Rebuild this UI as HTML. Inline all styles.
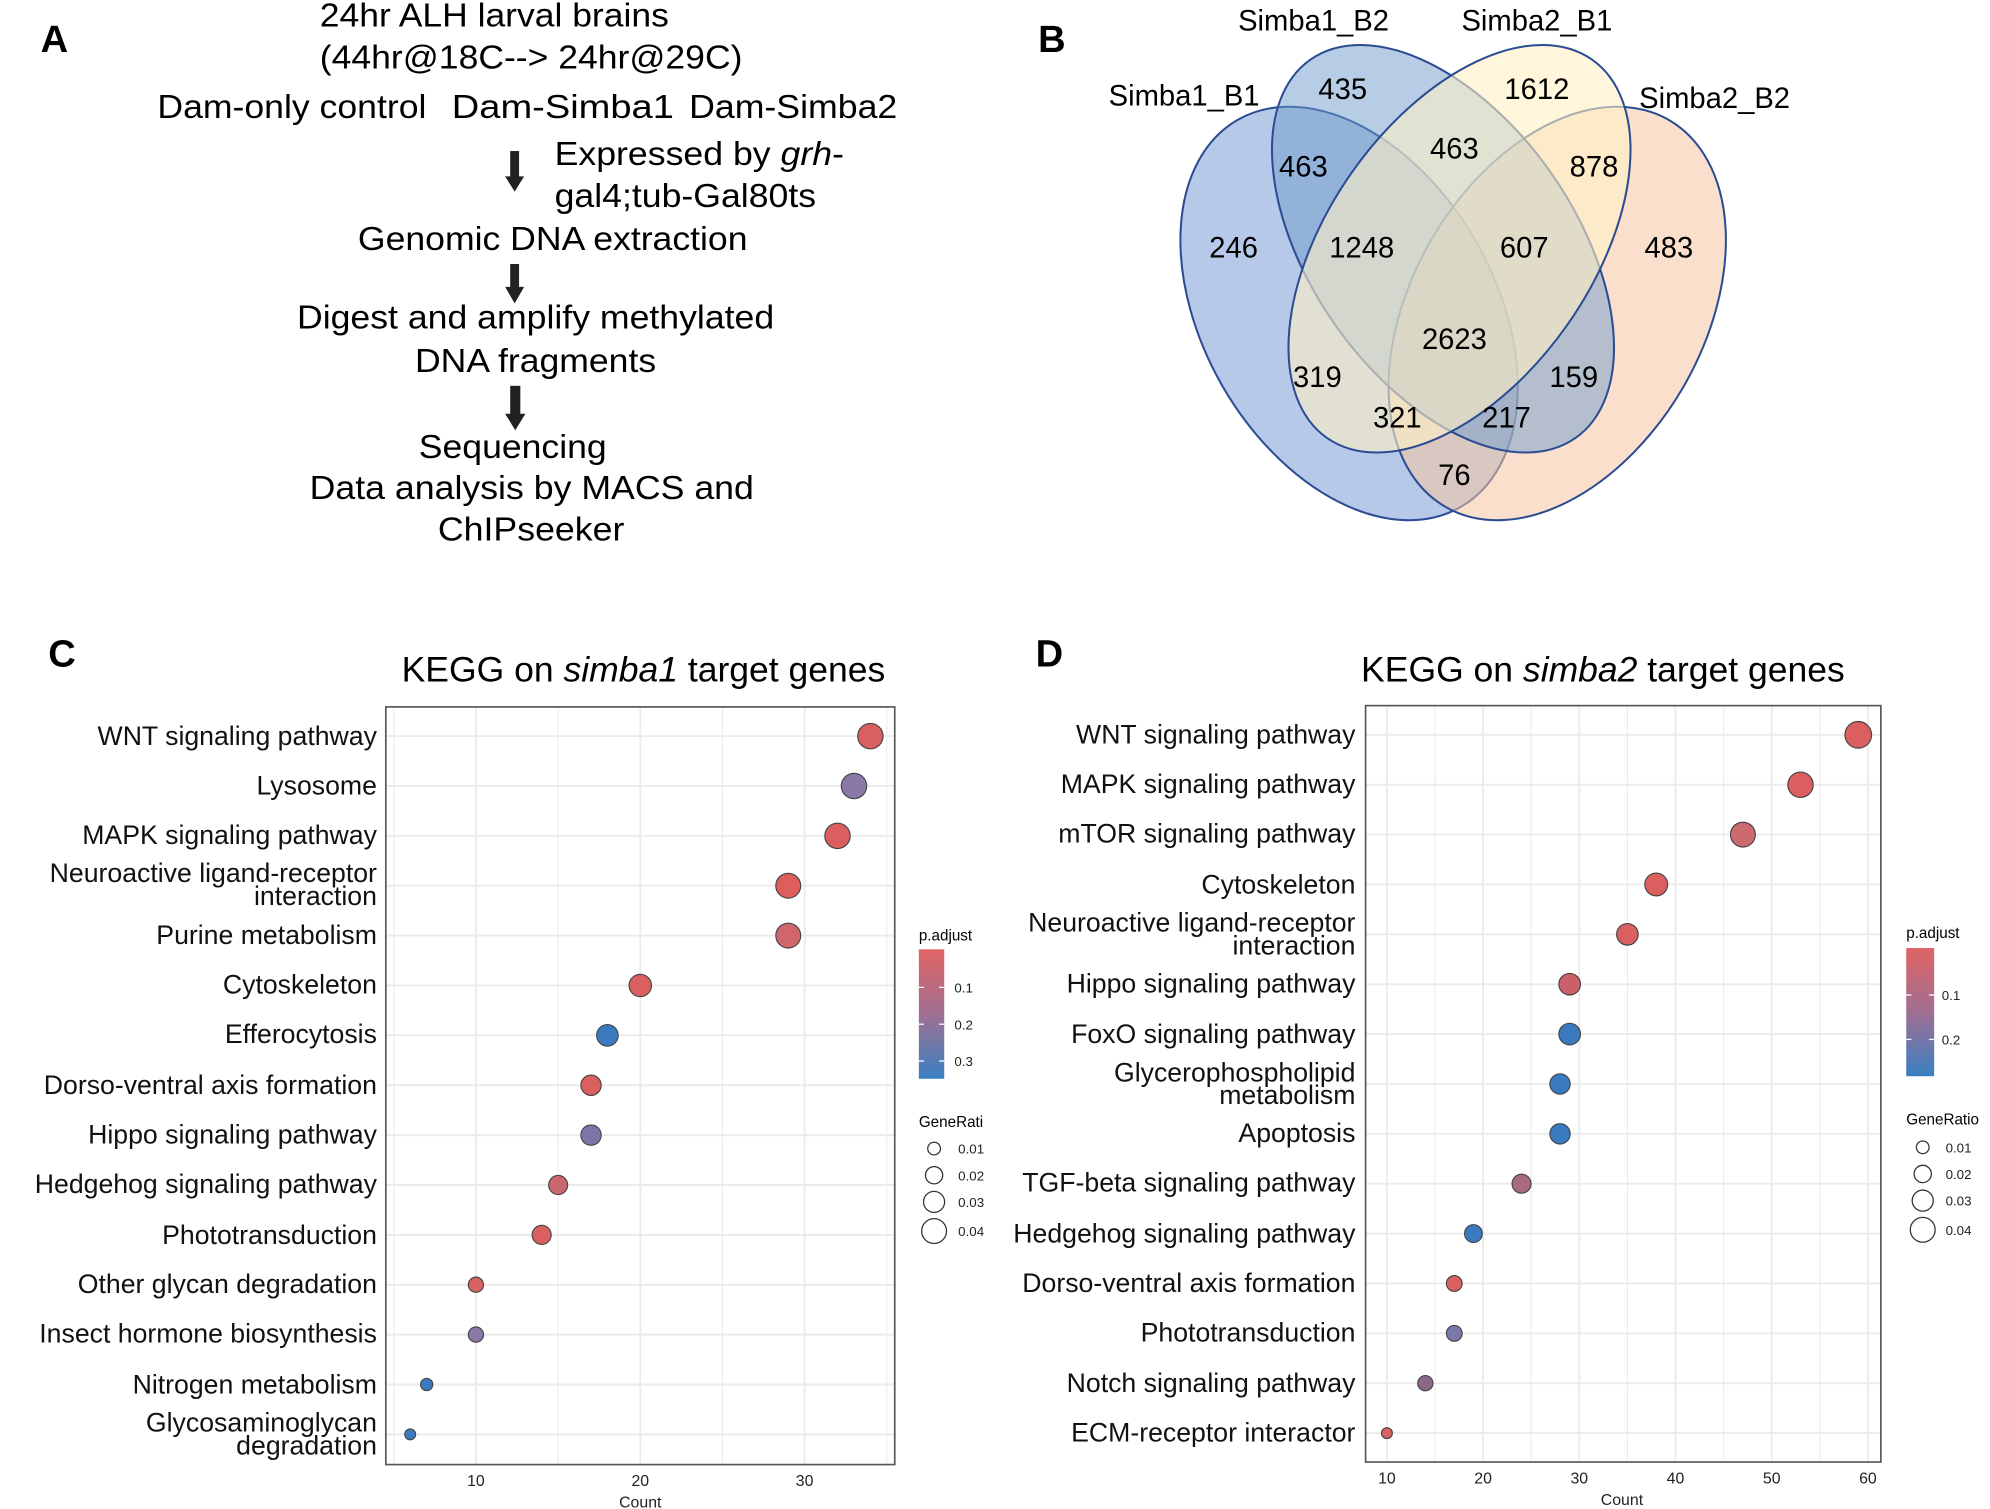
<!DOCTYPE html>
<html><head><meta charset="utf-8"><style>
html,body{margin:0;padding:0;background:#fff;}
svg{display:block;font-family:"Liberation Sans",Arial,sans-serif;}
</style></head><body>
<svg width="1990" height="1509" viewBox="0 0 1568 1189" preserveAspectRatio="none" xmlns="http://www.w3.org/2000/svg">
<defs>
<linearGradient id="pg" x1="0" y1="0" x2="0" y2="1">
<stop offset="0" stop-color="#e06464"/><stop offset="0.5" stop-color="#a06f92"/><stop offset="1" stop-color="#3a80c2"/>
</linearGradient>
</defs>
<rect width="1568" height="1189" fill="#fff"/>

<!-- Panel A -->
<text x="32" y="41" font-size="30" font-weight="bold">A</text>
<g font-size="26" fill="#000">
<text x="252" y="21" textLength="275" lengthAdjust="spacingAndGlyphs">24hr ALH larval brains</text>
<text x="252" y="54" textLength="333" lengthAdjust="spacingAndGlyphs">(44hr@18C--&gt; 24hr@29C)</text>
<text x="124" y="93" textLength="212" lengthAdjust="spacingAndGlyphs">Dam-only control</text>
<text x="356" y="93" textLength="175" lengthAdjust="spacingAndGlyphs">Dam-Simba1</text>
<text x="543" y="93" textLength="164" lengthAdjust="spacingAndGlyphs">Dam-Simba2</text>
<text x="437" y="130" textLength="228" lengthAdjust="spacingAndGlyphs">Expressed by <tspan font-style="italic">grh</tspan>-</text>
<text x="437" y="163" textLength="206" lengthAdjust="spacingAndGlyphs">gal4;tub-Gal80ts</text>
<text x="282" y="197" textLength="307" lengthAdjust="spacingAndGlyphs">Genomic DNA extraction</text>
<text x="234" y="259" textLength="376" lengthAdjust="spacingAndGlyphs">Digest and amplify methylated</text>
<text x="327" y="293" textLength="190" lengthAdjust="spacingAndGlyphs">DNA fragments</text>
<text x="330" y="361" textLength="148" lengthAdjust="spacingAndGlyphs">Sequencing</text>
<text x="244" y="393" textLength="350" lengthAdjust="spacingAndGlyphs">Data analysis by MACS and</text>
<text x="345" y="426" textLength="147" lengthAdjust="spacingAndGlyphs">ChIPseeker</text>
</g>
<g fill="#222">
<rect x="402" y="119" width="7" height="22"/><polygon points="398,139 413,139 405.5,151"/>
<rect x="402" y="208" width="7" height="20"/><polygon points="398,226 413,226 405.5,239"/>
<rect x="402" y="304" width="8" height="24"/><polygon points="398,326 414,326 406,339"/>
</g>

<!-- Panel B Venn -->
<text x="818" y="41" font-size="30" font-weight="bold">B</text>
<g stroke="#2b4b92" stroke-width="1.6">
<ellipse cx="1063" cy="247" rx="115" ry="176" transform="rotate(-30 1063 247)" fill="#8aa8dc" fill-opacity="0.62"/>
<ellipse cx="1227" cy="247" rx="115" ry="176" transform="rotate(30 1227 247)" fill="#f6c6a2" fill-opacity="0.55"/>
<ellipse cx="1137" cy="196" rx="104" ry="182" transform="rotate(-35 1137 196)" fill="#6f9ccc" fill-opacity="0.5"/>
<ellipse cx="1150" cy="196" rx="104" ry="182" transform="rotate(35 1150 196)" fill="#fff0c4" fill-opacity="0.6"/>
</g>
<g font-size="23" text-anchor="middle" fill="#000">
<text x="1035" y="24">Simba1_B2</text>
<text x="1211" y="24">Simba2_B1</text>
<text x="933" y="83">Simba1_B1</text>
<text x="1351" y="85">Simba2_B2</text>
<text x="1058" y="78">435</text><text x="1211" y="78">1612</text>
<text x="1027" y="139">463</text><text x="1146" y="125">463</text><text x="1256" y="139">878</text>
<text x="972" y="203">246</text><text x="1073" y="203">1248</text><text x="1201" y="203">607</text><text x="1315" y="203">483</text>
<text x="1146" y="275">2623</text>
<text x="1038" y="305">319</text><text x="1240" y="305">159</text>
<text x="1101" y="337">321</text><text x="1187" y="337">217</text>
<text x="1146" y="382">76</text>
</g>

<!-- Panel C -->
<text x="38" y="525" font-size="30" font-weight="bold">C</text>
<text x="507" y="537" font-size="28" text-anchor="middle">KEGG on <tspan font-style="italic">simba1</tspan> target genes</text>
<g stroke="#ebebeb">
<line x1="310.3" y1="557" x2="310.3" y2="1154" stroke-width="0.8"/><line x1="439.8" y1="557" x2="439.8" y2="1154" stroke-width="0.8"/><line x1="569.3" y1="557" x2="569.3" y2="1154" stroke-width="0.8"/><line x1="698.8" y1="557" x2="698.8" y2="1154" stroke-width="0.8"/>
<line x1="375" y1="557" x2="375" y2="1154" stroke-width="1.5"/><line x1="504.5" y1="557" x2="504.5" y2="1154" stroke-width="1.5"/><line x1="634" y1="557" x2="634" y2="1154" stroke-width="1.5"/>
<g stroke-width="1.5">
<line x1="304" y1="580" x2="705" y2="580"/><line x1="304" y1="619.3" x2="705" y2="619.3"/><line x1="304" y1="658.6" x2="705" y2="658.6"/><line x1="304" y1="697.9" x2="705" y2="697.9"/><line x1="304" y1="737.2" x2="705" y2="737.2"/><line x1="304" y1="776.5" x2="705" y2="776.5"/><line x1="304" y1="815.8" x2="705" y2="815.8"/><line x1="304" y1="855.1" x2="705" y2="855.1"/><line x1="304" y1="894.4" x2="705" y2="894.4"/><line x1="304" y1="933.7" x2="705" y2="933.7"/><line x1="304" y1="973" x2="705" y2="973"/><line x1="304" y1="1012.3" x2="705" y2="1012.3"/><line x1="304" y1="1051.6" x2="705" y2="1051.6"/><line x1="304" y1="1090.9" x2="705" y2="1090.9"/><line x1="304" y1="1130.2" x2="705" y2="1130.2"/>
</g></g>
<rect x="304" y="557" width="401" height="597" fill="none" stroke="#555" stroke-width="1.3"/>
<g font-size="21" text-anchor="end" fill="#111">
<text x="297" y="587">WNT signaling pathway</text>
<text x="297" y="626">Lysosome</text>
<text x="297" y="665">MAPK signaling pathway</text>
<text x="297" y="695">Neuroactive ligand-receptor</text>
<text x="297" y="713">interaction</text>
<text x="297" y="744">Purine metabolism</text>
<text x="297" y="783">Cytoskeleton</text>
<text x="297" y="822">Efferocytosis</text>
<text x="297" y="862">Dorso-ventral axis formation</text>
<text x="297" y="901">Hippo signaling pathway</text>
<text x="297" y="940">Hedgehog signaling pathway</text>
<text x="297" y="980">Phototransduction</text>
<text x="297" y="1019">Other glycan degradation</text>
<text x="297" y="1058">Insect hormone biosynthesis</text>
<text x="297" y="1098">Nitrogen metabolism</text>
<text x="297" y="1128">Glycosaminoglycan</text>
<text x="297" y="1146">degradation</text>
</g>
<g font-size="12.5" text-anchor="middle" fill="#222">
<text x="375" y="1171">10</text><text x="504.5" y="1171">20</text><text x="634" y="1171">30</text>
<text x="504.5" y="1188">Count</text>
</g>
<g stroke="#444" stroke-width="0.9">
<circle cx="685.8" cy="580" r="10" fill="#d9605f"/>
<circle cx="672.9" cy="619.3" r="10" fill="#8a78a8"/>
<circle cx="659.9" cy="658.6" r="10" fill="#dc5f5f"/>
<circle cx="621.1" cy="697.9" r="9.8" fill="#de5e5e"/>
<circle cx="621.1" cy="737.2" r="9.8" fill="#d0666c"/>
<circle cx="504.5" cy="776.5" r="8.8" fill="#da6060"/>
<circle cx="478.6" cy="815.8" r="8.5" fill="#3a7bbf"/>
<circle cx="465.7" cy="855.1" r="8" fill="#dc5f5f"/>
<circle cx="465.7" cy="894.4" r="8" fill="#7c76a8"/>
<circle cx="439.8" cy="933.7" r="7.5" fill="#c9666e"/>
<circle cx="426.8" cy="973" r="7.5" fill="#d9605f"/>
<circle cx="375" cy="1012.3" r="6" fill="#d8625f"/>
<circle cx="375" cy="1051.6" r="6" fill="#8a78a8"/>
<circle cx="336.2" cy="1090.9" r="4.8" fill="#3a7bbf"/>
<circle cx="323.2" cy="1130.2" r="4.3" fill="#3a7bbf"/>
</g>
<text x="724" y="741" font-size="12">p.adjust</text>
<rect x="724" y="748" width="20" height="102" fill="url(#pg)"/>
<g stroke="#fff" stroke-width="1"><line x1="724" y1="778" x2="728" y2="778"/><line x1="740" y1="778" x2="744" y2="778"/><line x1="724" y1="807" x2="728" y2="807"/><line x1="740" y1="807" x2="744" y2="807"/><line x1="724" y1="836" x2="728" y2="836"/><line x1="740" y1="836" x2="744" y2="836"/></g>
<g font-size="10.5" fill="#222"><text x="752" y="782">0.1</text><text x="752" y="811">0.2</text><text x="752" y="840">0.3</text></g>
<text x="724" y="888" font-size="12">GeneRati</text>
<g fill="none" stroke="#333" stroke-width="1"><circle cx="736" cy="905" r="5"/><circle cx="736" cy="926" r="6.8"/><circle cx="736" cy="947" r="8.3"/><circle cx="736" cy="970" r="9.8"/></g>
<g font-size="10.5" fill="#222"><text x="755" y="909">0.01</text><text x="755" y="930">0.02</text><text x="755" y="951">0.03</text><text x="755" y="974">0.04</text></g>

<!-- Panel D -->
<text x="816" y="525" font-size="30" font-weight="bold">D</text>
<text x="1263" y="537" font-size="28" text-anchor="middle">KEGG on <tspan font-style="italic">simba2</tspan> target genes</text>
<g stroke="#ebebeb">
<g stroke-width="0.8"><line x1="1130.7" y1="556" x2="1130.7" y2="1152"/><line x1="1206.5" y1="556" x2="1206.5" y2="1152"/><line x1="1282.3" y1="556" x2="1282.3" y2="1152"/><line x1="1358.1" y1="556" x2="1358.1" y2="1152"/><line x1="1433.9" y1="556" x2="1433.9" y2="1152"/></g>
<g stroke-width="1.5"><line x1="1092.8" y1="556" x2="1092.8" y2="1152"/><line x1="1168.6" y1="556" x2="1168.6" y2="1152"/><line x1="1244.4" y1="556" x2="1244.4" y2="1152"/><line x1="1320.2" y1="556" x2="1320.2" y2="1152"/><line x1="1396" y1="556" x2="1396" y2="1152"/><line x1="1471.8" y1="556" x2="1471.8" y2="1152"/>
<line x1="1076" y1="579" x2="1482" y2="579"/><line x1="1076" y1="618.3" x2="1482" y2="618.3"/><line x1="1076" y1="657.6" x2="1482" y2="657.6"/><line x1="1076" y1="696.9" x2="1482" y2="696.9"/><line x1="1076" y1="736.2" x2="1482" y2="736.2"/><line x1="1076" y1="775.5" x2="1482" y2="775.5"/><line x1="1076" y1="814.8" x2="1482" y2="814.8"/><line x1="1076" y1="854.1" x2="1482" y2="854.1"/><line x1="1076" y1="893.4" x2="1482" y2="893.4"/><line x1="1076" y1="932.7" x2="1482" y2="932.7"/><line x1="1076" y1="972" x2="1482" y2="972"/><line x1="1076" y1="1011.3" x2="1482" y2="1011.3"/><line x1="1076" y1="1050.6" x2="1482" y2="1050.6"/><line x1="1076" y1="1089.9" x2="1482" y2="1089.9"/><line x1="1076" y1="1129.2" x2="1482" y2="1129.2"/></g>
</g>
<rect x="1076" y="556" width="406" height="596" fill="none" stroke="#555" stroke-width="1.3"/>
<g font-size="21" text-anchor="end" fill="#111">
<text x="1068" y="586">WNT signaling pathway</text>
<text x="1068" y="625">MAPK signaling pathway</text>
<text x="1068" y="664">mTOR signaling pathway</text>
<text x="1068" y="704">Cytoskeleton</text>
<text x="1068" y="734">Neuroactive ligand-receptor</text>
<text x="1068" y="752">interaction</text>
<text x="1068" y="782">Hippo signaling pathway</text>
<text x="1068" y="822">FoxO signaling pathway</text>
<text x="1068" y="852">Glycerophospholipid</text>
<text x="1068" y="870">metabolism</text>
<text x="1068" y="900">Apoptosis</text>
<text x="1068" y="939">TGF-beta signaling pathway</text>
<text x="1068" y="979">Hedgehog signaling pathway</text>
<text x="1068" y="1018">Dorso-ventral axis formation</text>
<text x="1068" y="1057">Phototransduction</text>
<text x="1068" y="1097">Notch signaling pathway</text>
<text x="1068" y="1136">ECM-receptor interactor</text>
</g>
<g font-size="12.5" text-anchor="middle" fill="#222">
<text x="1092.8" y="1169">10</text><text x="1168.6" y="1169">20</text><text x="1244.4" y="1169">30</text><text x="1320.2" y="1169">40</text><text x="1396" y="1169">50</text><text x="1471.8" y="1169">60</text>
<text x="1278" y="1186">Count</text>
</g>
<g stroke="#444" stroke-width="0.9">
<circle cx="1464.2" cy="579" r="10.5" fill="#d9605f"/>
<circle cx="1418.7" cy="618.3" r="10" fill="#dc5f5f"/>
<circle cx="1373.3" cy="657.6" r="9.8" fill="#cc6a6e"/>
<circle cx="1305" cy="696.9" r="9" fill="#dc5f5f"/>
<circle cx="1282.3" cy="736.2" r="8.5" fill="#da6060"/>
<circle cx="1236.8" cy="775.5" r="8.5" fill="#cc6068"/>
<circle cx="1236.8" cy="814.8" r="8.5" fill="#3a7bbf"/>
<circle cx="1229.2" cy="854.1" r="8" fill="#3a7bbf"/>
<circle cx="1229.2" cy="893.4" r="8" fill="#3a7bbf"/>
<circle cx="1198.9" cy="932.7" r="7.5" fill="#a86a80"/>
<circle cx="1161" cy="972" r="7" fill="#3a7bbf"/>
<circle cx="1145.9" cy="1011.3" r="6.2" fill="#da6060"/>
<circle cx="1145.9" cy="1050.6" r="6.2" fill="#7b78aa"/>
<circle cx="1123.1" cy="1089.9" r="6" fill="#8c6888"/>
<circle cx="1092.8" cy="1129.2" r="4.3" fill="#da6060"/>
</g>
<text x="1502" y="739" font-size="12">p.adjust</text>
<rect x="1502" y="747" width="22" height="101" fill="url(#pg)"/>
<g stroke="#fff" stroke-width="1"><line x1="1502" y1="784" x2="1506" y2="784"/><line x1="1520" y1="784" x2="1524" y2="784"/><line x1="1502" y1="819" x2="1506" y2="819"/><line x1="1520" y1="819" x2="1524" y2="819"/></g>
<g font-size="10.5" fill="#222"><text x="1530" y="788">0.1</text><text x="1530" y="823">0.2</text></g>
<text x="1502" y="886" font-size="12">GeneRatio</text>
<g fill="none" stroke="#333" stroke-width="1"><circle cx="1515" cy="904" r="5"/><circle cx="1515" cy="925" r="6.8"/><circle cx="1515" cy="946" r="8.3"/><circle cx="1515" cy="969" r="9.8"/></g>
<g font-size="10.5" fill="#222"><text x="1533" y="908">0.01</text><text x="1533" y="929">0.02</text><text x="1533" y="950">0.03</text><text x="1533" y="973">0.04</text></g>
</svg>
</body></html>
